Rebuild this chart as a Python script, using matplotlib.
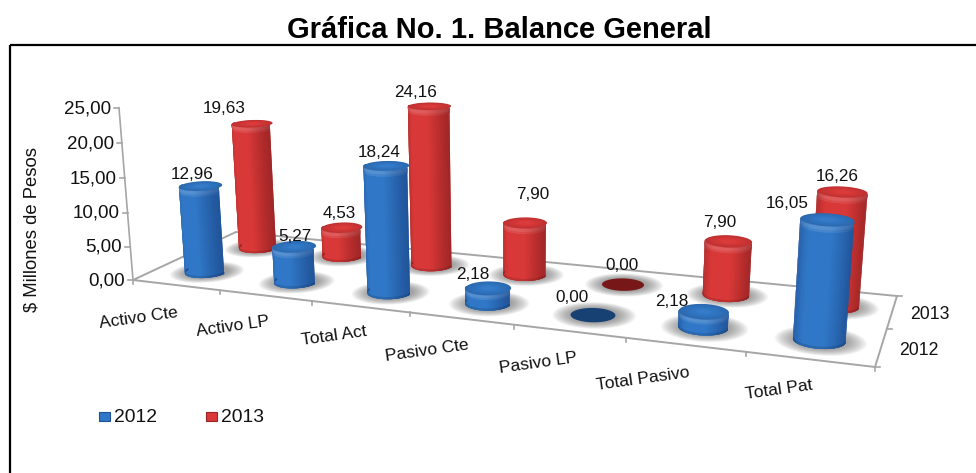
import numpy as np
import matplotlib
matplotlib.use("Agg")
import matplotlib.pyplot as plt
from matplotlib.collections import PolyCollection
from matplotlib.patches import Rectangle, Polygon

# ---- data
categories = ["Activo Cte", "Activo LP", "Total Act", "Pasivo Cte", "Pasivo LP", "Total Pasivo", "Total Pat"]
series_names = ["2012", "2013"]
values_2012 = [12.96, 5.27, 18.24, 2.18, 0.00, 2.18, 16.05]
values_2013 = [19.63, 4.53, 24.16, 7.90, 0.00, 7.90, 16.26]
value_ticks = [0, 5, 10, 15, 20, 25]
title = "Gráfica No. 1. Balance General"
ylabel = "$ Millones de Pesos"

plt.rcParams["font.family"] = ["Liberation Sans", "DejaVu Sans"]
W, H = 976, 473
fig = plt.figure(figsize=(W / 100, H / 100), dpi=100)
ax = fig.add_axes([0, 0, 1, 1])
ax.set_xlim(0, W)
ax.set_ylim(H, 0)
ax.axis("off")

# ---- layout: camera of the pseudo-3D plot (floor corners, vertical vanishing point)
floor_px = np.array([[133, 280], [875, 367], [897, 296], [236, 232]], float)
floor_uv = np.array([[0, 0], [7, 0], [7, 2], [0, 2]], float)
VAN = np.array([513.0, 4950.0, 1.0])
AXIS_TOP_Y = 108.0
TAPER = 0.0095


def homography(src, dst):
    A = []
    for (u, v), (x, y) in zip(src, dst):
        A.append([u, v, 1, 0, 0, 0, -x * u, -x * v, -x])
        A.append([0, 0, 0, u, v, 1, -y * u, -y * v, -y])
    return np.linalg.svd(np.array(A))[2][-1].reshape(3, 3)


HM = homography(floor_uv, floor_px)
HM = HM / HM[2, 2]
LAM = (AXIS_TOP_Y - 280.0) / (25 * (VAN[1] - AXIS_TOP_Y * VAN[2]))


def proj(x, s, z):
    x, s, z = np.broadcast_arrays(np.asarray(x, float), np.asarray(s, float), np.asarray(z, float))
    ze = z * (1 - TAPER * x)
    hx = HM[0, 0] * x + HM[0, 1] * s + HM[0, 2] + LAM * ze * VAN[0]
    hy = HM[1, 0] * x + HM[1, 1] * s + HM[1, 2] + LAM * ze * VAN[1]
    hw = HM[2, 0] * x + HM[2, 1] * s + HM[2, 2] + LAM * ze * VAN[2]
    return np.stack([hx / hw, hy / hw], axis=-1)


GRID = "#a6a6a6"
TXT = "#111111"
# frame runs off the right and bottom of the image
ax.add_patch(Rectangle((10, 45.5), 1000, 500, fill=False, ec="black", lw=1.6, zorder=1, clip_on=True))

# floor outline + ticks
ax.add_patch(Polygon(proj([0, 7, 7, 0], [0, 0, 2, 2], 0), closed=True, fill=False, ec=GRID, lw=1.4, zorder=2))
ax.plot(*proj([0, 0], [0, 0], [0, 25]).T, color=GRID, lw=1.2, zorder=2)
for v in value_ticks:
    p = proj(0, 0, v)
    ax.plot([p[0] - 5, p[0]], [p[1], p[1]], color=GRID, lw=1.2, zorder=2)
    ax.text(p[0] - 8, p[1] + 0.5, f"{v:.2f}".replace(".", ","), ha="right", va="center", fontsize=13.5, color=TXT)
for i in range(8):
    a = proj(i, 0, 0)
    ax.plot([a[0], a[0]], [a[1], a[1] + 4], color=GRID, lw=1.2, zorder=2)
for s in (0, 1, 2):
    a = proj(7, s, 0)
    ax.plot([a[0], a[0] + 5], [a[1], a[1]], color=GRID, lw=1.2, zorder=2)


def mix(c, f):
    c = np.asarray(c, float)
    if f >= 0:
        return c + (1 - c) * f
    return c * (1 + f)


PAL = {
    0: dict(base=np.array([0.19, 0.47, 0.78]), dark=np.array([0.12, 0.31, 0.58]), flat=np.array([0.09, 0.25, 0.45])),
    1: dict(base=np.array([0.85, 0.22, 0.22]), dark=np.array([0.60, 0.14, 0.14]), flat=np.array([0.47, 0.09, 0.09])),
}
RAD = 0.21
RS = 0.22
# sideways placement of each cylinder within its category cell, floor units
nudge = {0: [0.04, 0.065, 0.075, 0.07, 0.065, 0.045, 0.01],
         1: [0.08, 0.085, 0.095, 0.085, 0.07, 0.045, 0.01]}


def ellipse(x0, s0, z, scale=1.0, n=72):
    t = np.linspace(0, 2 * np.pi, n)
    return proj(x0 + RAD * scale * np.cos(t), s0 + RS * scale * np.sin(t), z)


def shadow(x0, s0, order):
    for k in np.linspace(1.75, 1.0, 14):
        ax.add_patch(Polygon(ellipse(x0 + 0.01, s0, 0, k), closed=True, fc="#555555", ec="none",
                             alpha=0.05, zorder=order))


def band(x0, s0, z0, z1, colfn, order):
    """Front half of the cylinder between two heights, each strip slightly over the next so no seam shows."""
    ang = np.linspace(np.pi, 2 * np.pi, 46)
    polys, cols = [], []
    for k in range(len(ang) - 1):
        arc = ang[k:k + 3]
        low = proj(x0 + RAD * np.cos(arc), s0 + RS * np.sin(arc), z0)
        high = proj(x0 + RAD * np.cos(arc[::-1]), s0 + RS * np.sin(arc[::-1]), z1)
        polys.append(np.vstack([low, high]))
        t = (ang[k] - np.pi) / np.pi
        cols.append(np.clip(colfn(t), 0, 1))
    ax.add_collection(PolyCollection(polys, facecolors=cols, edgecolors="none", linewidths=0, zorder=order))


def cylinder(x0, s0, val, sidx, order):
    pal = PAL[sidx]
    shadow(x0, s0, order)
    if val <= 0:
        ax.add_patch(Polygon(ellipse(x0, s0, 0, 0.94), closed=True, fc=pal["flat"], ec="none", zorder=order + 0.1))
        return

    def shade(t):
        w = np.exp(-((t - 0.45) / 0.33) ** 2)
        return pal["dark"] + (pal["base"] - pal["dark"]) * np.clip(0.05 + 1.1 * w, 0, 1), w

    band(x0, s0, 0, val, lambda t: shade(t)[0], order + 0.1)
    bev = min(0.8, val * 0.3)
    band(x0, s0, 0, min(0.3, val * 0.2), lambda t: mix(shade(t)[0], -0.12), order + 0.12)
    band(x0, s0, val - bev, val, lambda t: mix(shade(t)[0], 0.04 + 0.06 * shade(t)[1]), order + 0.13)
    band(x0, s0, val - bev * 0.6, val, lambda t: mix(shade(t)[0], 0.08 + 0.10 * shade(t)[1]), order + 0.14)
    # cap with a soft bevel ring
    for k, f in zip(np.linspace(1.0, 0.3, 8), np.linspace(-0.12, 0.02, 8)):
        ax.add_patch(Polygon(ellipse(x0, s0, val, k), closed=True, fc=mix(pal["base"], f), ec="none",
                             zorder=order + 0.2))


# ---- draw: back row first, left to right
for sidx, vals in sorted(enumerate([values_2012, values_2013]), key=lambda t: -t[0]):
    for i, v in enumerate(vals):
        cylinder(i + 0.5 + nudge[sidx][i], sidx + 0.5, v, sidx, 10 + (1 - sidx) * 20 + i)

# ---- data labels (offsets from the top of each cylinder, pixels)
off_2012 = [(-8, -12), (1, -10), (-7, -13), (-15, -14), (-21, -18), (-32, -10), (-40, -16)]
off_2013 = [(-28, -15), (-3, -14), (-14, -14), (8, -28), (-1, -19), (-9, -19), (-5, -15)]
for sidx, (vals, offs) in enumerate([(values_2012, off_2012), (values_2013, off_2013)]):
    for i, (v, (dx, dy)) in enumerate(zip(vals, offs)):
        p = proj(i + 0.5 + nudge[sidx][i], sidx + 0.5, v)
        ax.text(p[0] + dx, p[1] + dy, f"{v:.2f}".replace(".", ","), ha="center", va="center",
                fontsize=12.3, color=TXT, zorder=60)

# ---- axis texts
cat_off = [(-37, 33), (-32, 31), (-26, 29), (-34, 32), (-31, 32), (-42, 34), (-30, 31)]
for i, (c, (dx, dy)) in enumerate(zip(categories, cat_off)):
    p = proj(i + 0.5, 0, 0)
    ax.text(p[0] + dx, p[1] + dy, c, rotation=8, rotation_mode="anchor", ha="center", va="center",
            fontsize=12.5, color=TXT, zorder=60)
for s, name in enumerate(series_names):
    p = proj(7, s + 0.5, 0)
    ax.text(p[0] + 38, p[1] + 3, name, ha="center", va="center", fontsize=12.7, color=TXT, zorder=60)
ax.text(32, 229, ylabel, rotation=90, ha="center", va="center", fontsize=13.3, color=TXT)
ax.text(499.5, 30.5, title, ha="center", va="center", fontsize=21, fontweight="bold", color="black")

# ---- legend
for (name, px, pal) in zip(series_names, (99, 206), (PAL[0], PAL[1])):
    ax.add_patch(Rectangle((px, 412), 10.5, 9, fc=pal["base"], ec=pal["dark"], lw=0.8, zorder=5))
    ax.text(px + 15, 417.5, name, ha="left", va="center", fontsize=13.9, color=TXT)

fig.savefig("out.png", dpi=100)
